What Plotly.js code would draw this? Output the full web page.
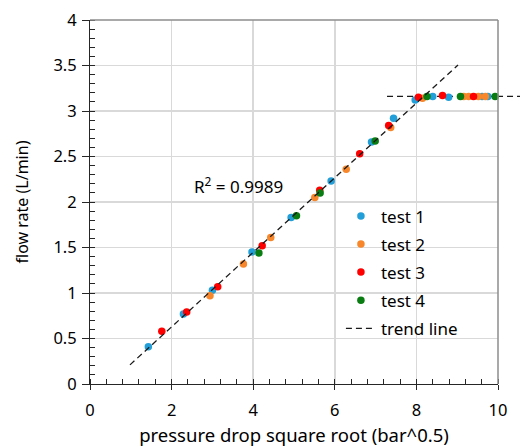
<!DOCTYPE html>
<html>
<head>
<meta charset="utf-8">
<script src="https://cdn.plot.ly/plotly-3.0.1.min.js"></script>
<style>html,body{margin:0;padding:0;background:#fff;}#chart{width:520px;height:447px;}</style>
</head>
<body>
<div id="chart"></div>
<script>
// ---- data ----
const test1X = [1.43, 2.29, 3.00, 3.97, 4.93, 5.91, 6.90, 7.44, 7.97, 8.40, 8.79, 9.61, 9.75];
const test1Y = [0.41, 0.77, 1.03, 1.45, 1.83, 2.23, 2.66, 2.92, 3.12, 3.16, 3.15, 3.16, 3.16];
const test2X = [2.94, 3.76, 4.43, 5.51, 6.28, 7.37, 8.15, 9.16, 9.28, 9.52, 9.69];
const test2Y = [0.97, 1.32, 1.61, 2.05, 2.36, 2.82, 3.14, 3.16, 3.16, 3.16, 3.16];
const test3X = [1.76, 2.37, 3.13, 4.22, 5.63, 6.61, 7.32, 8.05, 8.64, 9.40];
const test3Y = [0.58, 0.79, 1.07, 1.52, 2.13, 2.53, 2.84, 3.15, 3.17, 3.16];
const test4X = [4.14, 5.06, 5.64, 6.99, 8.26, 9.08, 9.93];
const test4Y = [1.44, 1.85, 2.10, 2.67, 3.16, 3.16, 3.16];
const trendX = [0.98, 9.02];
const trendY = [0.21, 3.505];
const plateauX = [7.28, 10.55];
const plateauY = 3.16;
const xRange = [0, 10];
const yRange = [0, 4];
const r2Label = 'R<sup>2</sup> = 0.9989';
const r2Pos = [3.63, 2.18];

const names = ['test 1', 'test 2', 'test 3', 'test 4'];
const colors = ['#229fd8', '#f7872a', '#ff0000', '#0a7d12'];
const xs = [test1X, test2X, test3X, test4X];
const ys = [test1Y, test2Y, test3Y, test4Y];

const FONT = 'Noto Sans, Open Sans, sans-serif';

const traces = xs.map((x, i) => ({
  type: 'scatter', mode: 'markers', name: names[i], x: x, y: ys[i],
  legendgroup: 'g' + i,
  marker: {color: colors[i], size: 7.5}, cliponaxis: false
}));
traces.push({
  type: 'scatter', mode: 'lines', name: 'trend line', x: trendX, y: trendY,
  legendgroup: 'g4',
  line: {color: '#1a1a1a', width: 1.3, dash: '6px,4px'}
});

const toPaper = v => (v - xRange[0]) / (xRange[1] - xRange[0]);

const layout = {
  width: 520, height: 447,
  margin: {l: 90, r: 22, t: 20, b: 63},
  paper_bgcolor: '#fff', plot_bgcolor: '#fff',
  font: {family: FONT, size: 16, color: '#000'},
  showlegend: true,
  legend: {
    x: 0.615, y: 0.51, xanchor: 'left', yanchor: 'top',
    bgcolor: 'rgba(0,0,0,0)', font: {family: FONT, size: 17, color: '#000'},
    itemwidth: 30, tracegroupgap: 3
  },
  xaxis: {
    range: xRange, dtick: 2, tick0: 0,
    showgrid: true, gridcolor: '#d9d9d9', gridwidth: 1.5,
    zeroline: false, showline: true, linecolor: '#262626', linewidth: 1,
    ticks: 'outside', ticklen: 5, tickcolor: '#262626',
    minor: {dtick: 0.4, ticks: 'inside', ticklen: 5, tickcolor: '#262626', showgrid: false},
    ticklabelstandoff: 6,
    tickfont: {family: FONT, size: 16.5, color: '#000'},
    title: {text: 'pressure drop square root (bar^0.5)', font: {family: FONT, size: 18.5, color: '#000'}, standoff: 14}
  },
  yaxis: {
    range: yRange, dtick: 0.5, tick0: 0,
    showgrid: true, gridcolor: '#d9d9d9', gridwidth: 1.5,
    zeroline: false, showline: true, linecolor: '#262626', linewidth: 1,
    ticks: 'outside', ticklen: 7, tickcolor: '#262626',
    minor: {dtick: 0.1, ticks: 'inside', ticklen: 5, tickcolor: '#262626', showgrid: false},
    ticklabelstandoff: 2,
    tickfont: {family: FONT, size: 16.5, color: '#000'},
    title: {text: 'flow rate (L/min)', font: {family: FONT, size: 16, color: '#000'}, standoff: 20}
  },
  shapes: [
    {type: 'line', xref: 'paper', yref: 'paper', x0: 0, x1: 1, y0: 1, y1: 1, line: {color: '#8c8c8c', width: 1.5}},
    {type: 'line', xref: 'paper', yref: 'paper', x0: 1, x1: 1, y0: 0, y1: 1, line: {color: '#8c8c8c', width: 1.5}},
    {type: 'line', xref: 'paper', yref: 'y', x0: toPaper(plateauX[0]), x1: toPaper(plateauX[1]),
     y0: plateauY, y1: plateauY, line: {color: '#1a1a1a', width: 1.3, dash: '6px,4px'}, layer: 'below'}
  ],
  annotations: [
    {x: r2Pos[0], y: r2Pos[1], xref: 'x', yref: 'y', text: r2Label, showarrow: false,
     font: {family: FONT, size: 17, color: '#000'}}
  ]
};

Plotly.newPlot('chart', traces, layout, {displayModeBar: false, staticPlot: true});
</script>
</body>
</html>
